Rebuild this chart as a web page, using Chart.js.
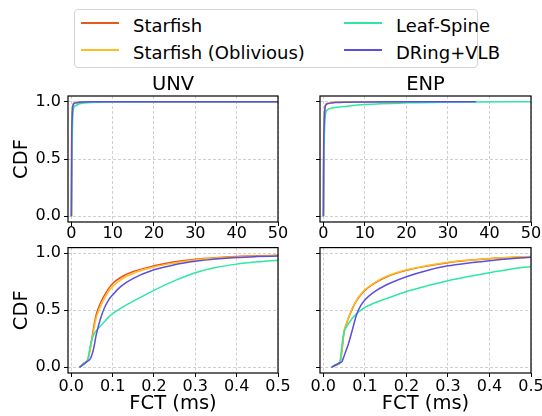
<!DOCTYPE html>
<html>
<head>
<meta charset="utf-8">
<script src="https://cdn.jsdelivr.net/npm/chart.js@4"></script>
<style>
  body { margin: 0; background: #fff; width: 542px; height: 416px; position: relative; overflow: hidden; font-family: "DejaVu Sans", sans-serif; }
  canvas { position: absolute; }
  #legend-box { position: absolute; left: 74px; top: 9px; width: 404px; height: 59px; border: 1px solid #d3d3d3; border-radius: 4px; box-sizing: border-box; }
  .lg-text { position: absolute; font-size: 18px; line-height: 20px; white-space: nowrap; color: #000; }
  .lg-line { position: absolute; width: 38px; height: 1.5px; }
</style>
</head>
<body>
<div id="legend-box"></div>
<canvas id="unvTop" width="292" height="176" style="left:0;top:70px"></canvas>
<canvas id="enpTop" width="255" height="176" style="left:290px;top:70px"></canvas>
<canvas id="unvZoom" width="292" height="181" style="left:0;top:235px"></canvas>
<canvas id="enpZoom" width="255" height="181" style="left:290px;top:235px"></canvas>
<script>
const systems = ["Starfish", "Starfish (Oblivious)", "Leaf-Spine", "DRing+VLB"];
const colors = ["#e8581c", "#ffbd20", "#2ee8a2", "#5a4fe0"];

const yTicks = [0, 0.5, 1.0];
const xTicksFull = [0, 10, 20, 30, 40, 50];
const xTicksZoom = [0, 0.1, 0.2, 0.3, 0.4, 0.5];

// FCT (ms), full range
const fctFull = [0.02, 0.05, 0.1, 0.2, 0.5, 1, 2, 3, 5, 10, 20, 28, 36.7, 50];
const unvFullStarfish  = [0, 0.26, 0.735, 0.89, 0.982, 0.992, 0.996, 0.998, 0.999, 1, 1, 1, 1, 1];
const unvFullOblivious = [0, 0.24, 0.71, 0.88, 0.98, 0.991, 0.996, 0.998, 0.999, 1, 1, 1, 1, 1];
const unvFullLeafSpine = [0, 0.25, 0.47, 0.675, 0.94, 0.965, 0.982, 0.988, 0.994, 0.998, 1, 1, 1, 1];
const unvFullDRing     = [0, 0.11, 0.635, 0.855, 0.977, 0.99, 0.996, 0.998, 0.999, 1, 1, 1, 1, 1];

const enpFullStarfish  = [0, 0.31, 0.675, 0.85, 0.968, 0.985, 0.992, 0.995, 0.997, 0.999, 1, 1, null, null];
const enpFullOblivious = [0, 0.32, 0.68, 0.855, 0.973, 0.986, 0.993, 0.995, 0.997, 0.999, 1, 1, null, null];
const enpFullLeafSpine = [0, 0.31, 0.525, 0.665, 0.885, 0.93, 0.945, 0.95, 0.958, 0.975, 0.99, 0.995, 0.998, 1];
const enpFullDRing     = [0, 0.1, 0.59, 0.795, 0.965, 0.982, 0.99, 0.993, 0.996, 0.998, 0.999, 0.9995, 1, null];

// FCT (ms), zoom on 0..0.5
const fctZoom = [0.02, 0.03, 0.04, 0.045, 0.05, 0.055, 0.06, 0.07, 0.08, 0.09, 0.1, 0.12, 0.15, 0.2, 0.25, 0.3, 0.35, 0.4, 0.45, 0.5];
const unvZoomStarfish  = [0, 0.035, 0.07, 0.15, 0.26, 0.37, 0.46, 0.56, 0.63, 0.69, 0.735, 0.79, 0.84, 0.89, 0.925, 0.948, 0.962, 0.972, 0.978, 0.982];
const unvZoomOblivious = [0, 0.035, 0.07, 0.14, 0.24, 0.34, 0.43, 0.53, 0.605, 0.665, 0.71, 0.77, 0.825, 0.88, 0.915, 0.942, 0.958, 0.968, 0.975, 0.98];
const unvZoomLeafSpine = [0, 0.035, 0.07, 0.17, 0.25, 0.29, 0.32, 0.36, 0.40, 0.44, 0.47, 0.52, 0.58, 0.675, 0.76, 0.83, 0.875, 0.905, 0.925, 0.94];
const unvZoomDRing     = [0, 0.025, 0.055, 0.07, 0.11, 0.18, 0.28, 0.42, 0.52, 0.59, 0.635, 0.71, 0.78, 0.855, 0.9, 0.93, 0.95, 0.963, 0.971, 0.977];

const enpZoomStarfish  = [0, 0.02, 0.04, 0.15, 0.31, 0.37, 0.425, 0.515, 0.585, 0.635, 0.675, 0.73, 0.79, 0.85, 0.888, 0.918, 0.938, 0.953, 0.963, 0.97];
const enpZoomOblivious = [0, 0.02, 0.04, 0.16, 0.32, 0.38, 0.43, 0.52, 0.59, 0.64, 0.68, 0.735, 0.795, 0.855, 0.892, 0.921, 0.94, 0.955, 0.965, 0.973];
const enpZoomLeafSpine = [0, 0.025, 0.05, 0.2, 0.31, 0.35, 0.38, 0.43, 0.47, 0.50, 0.525, 0.56, 0.6, 0.665, 0.715, 0.76, 0.797, 0.83, 0.86, 0.885];
const enpZoomDRing     = [0, 0.02, 0.04, 0.05, 0.1, 0.15, 0.2, 0.33, 0.46, 0.54, 0.59, 0.655, 0.72, 0.795, 0.85, 0.89, 0.915, 0.935, 0.952, 0.965];

const FONT = "DejaVu Sans";

// legend (html)
const legendPos = [[81, 23], [81, 50], [344, 23], [344, 50]];
systems.forEach((name, i) => {
  const [lx, ly] = legendPos[i];
  const line = document.createElement("div");
  line.className = "lg-line";
  line.style.left = lx + "px";
  line.style.top = (ly - 1) + "px";
  line.style.background = colors[i];
  document.body.appendChild(line);
  const txt = document.createElement("div");
  txt.className = "lg-text";
  txt.style.left = (lx + 52) + "px";
  txt.style.top = (ly - 7) + "px";
  txt.textContent = name;
  document.body.appendChild(txt);
});

const frame = {
  id: "frame",
  afterDatasetsDraw(chart) {
    const { ctx, chartArea: a } = chart;
    ctx.save();
    ctx.strokeStyle = "#000";
    ctx.lineWidth = 1.2;
    ctx.strokeRect(a.left, a.top, a.right - a.left, a.bottom - a.top);
    ctx.restore();
  }
};

function makeDatasets(xs, series) {
  // DRing drawn on top, Starfish at the bottom (matplotlib plot order)
  return series.map((ys, i) => ({
    label: systems[i],
    data: xs.map((x, j) => ({ x: x, y: ys[j] })),
    borderColor: colors[i],
    borderWidth: 1.5,
    pointRadius: 0,
    fill: false,
    spanGaps: false,
    cubicInterpolationMode: "monotone",
    order: 3 - i
  }));
}

function fixedTicks(list) {
  return (scale) => { scale.ticks = list.map(v => ({ value: v })); };
}

function makeChart(id, opts) {
  const gridCommon = { color: "#c4c4c4", lineWidth: 0.8, tickLength: 4, tickColor: "#000", tickWidth: 1 };
  const borderCommon = { display: false, dash: [3, 2] };
  new Chart(document.getElementById(id), {
    type: "line",
    data: { datasets: makeDatasets(opts.xs, opts.series) },
    options: {
      responsive: false,
      animation: false,
      events: [],
      layout: { padding: { left: 0, right: 14, top: opts.padTop, bottom: 0 } },
      plugins: {
        legend: { display: false },
        tooltip: { enabled: false },
        title: {
          display: !!opts.title,
          text: opts.title,
          fullSize: false,
          color: "#000",
          font: { family: FONT, size: 19.5, weight: "normal", lineHeight: 1 },
          padding: { top: 5.5, bottom: 1 }
        }
      },
      scales: {
        x: {
          type: "linear",
          min: opts.xMin,
          max: opts.xMax,
          afterBuildTicks: fixedTicks(opts.xTicks),
          afterFit: (s) => { s.height = opts.xHeight; },
          grid: gridCommon,
          border: borderCommon,
          ticks: {
            color: "#000",
            font: { family: FONT, size: 16 },
            padding: opts.xPad,
            maxRotation: 0,
            autoSkip: false,
            callback: opts.xFormat
          },
          title: {
            display: !!opts.xTitle,
            text: opts.xTitle,
            color: "#000",
            font: { family: FONT, size: 19.5 },
            padding: { top: 0, bottom: 0.8 }
          }
        },
        y: {
          type: "linear",
          min: -0.05,
          max: 1.05,
          afterBuildTicks: fixedTicks(yTicks),
          afterFit: (s) => { s.width = opts.yWidth; },
          grid: gridCommon,
          border: borderCommon,
          ticks: {
            color: "#000",
            font: { family: FONT, size: 16 },
            padding: 3,
            autoSkip: false,
            callback: opts.yLabels ? (v) => v.toFixed(1) : () => ""
          },
          title: {
            display: !!opts.yTitle,
            text: opts.yTitle,
            color: "#000",
            font: { family: FONT, size: 19.5 },
            padding: { top: 10, bottom: 0 }
          }
        }
      }
    },
    plugins: [frame]
  });
}

makeChart("unvTop", {
  title: "UNV", padTop: 0, xs: fctFull,
  series: [unvFullStarfish, unvFullOblivious, unvFullLeafSpine, unvFullDRing],
  xMin: -0.8, xMax: 50, xTicks: xTicksFull, xFormat: (v) => String(v), xHeight: 24, xPad: -2,
  yWidth: 68, yLabels: true, yTitle: "CDF"
});
makeChart("enpTop", {
  title: "ENP", padTop: 0, xs: fctFull,
  series: [enpFullStarfish, enpFullOblivious, enpFullLeafSpine, enpFullDRing],
  xMin: -0.8, xMax: 50, xTicks: xTicksFull, xFormat: (v) => String(v), xHeight: 24, xPad: -2,
  yWidth: 30, yLabels: false
});
makeChart("unvZoom", {
  padTop: 12, xs: fctZoom,
  series: [unvZoomStarfish, unvZoomOblivious, unvZoomLeafSpine, unvZoomDRing],
  xMin: -0.008, xMax: 0.5, xTicks: xTicksZoom, xFormat: (v) => v.toFixed(1), xHeight: 43, xPad: 0,
  xTitle: "FCT (ms)", yWidth: 68, yLabels: true, yTitle: "CDF"
});
makeChart("enpZoom", {
  padTop: 12, xs: fctZoom,
  series: [enpZoomStarfish, enpZoomOblivious, enpZoomLeafSpine, enpZoomDRing],
  xMin: -0.008, xMax: 0.5, xTicks: xTicksZoom, xFormat: (v) => v.toFixed(1), xHeight: 43, xPad: 0,
  xTitle: "FCT (ms)", yWidth: 30, yLabels: false
});
</script>
</body>
</html>
